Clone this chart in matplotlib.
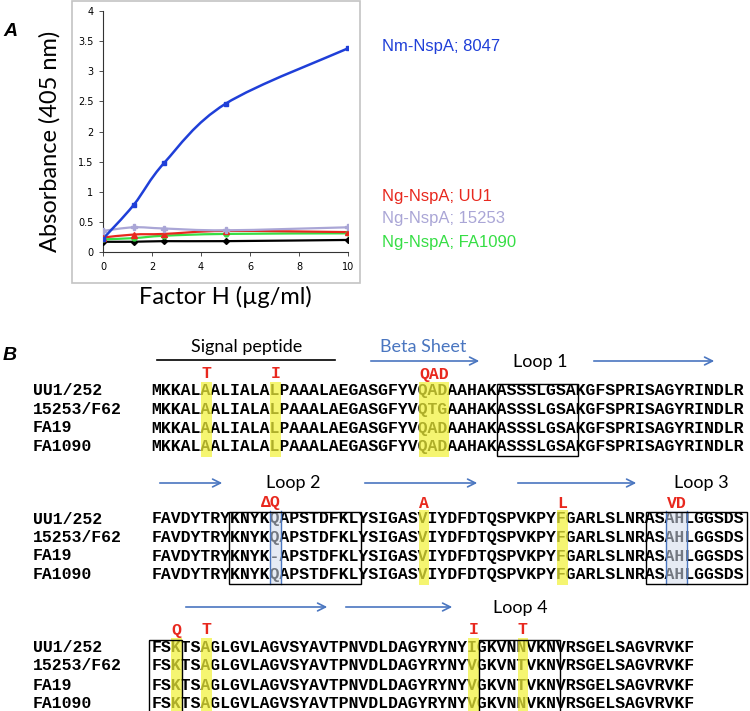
#Import relevant packages
import numpy as np
import matplotlib
matplotlib.use('Agg')
import matplotlib.pyplot as plt
from matplotlib.path import Path
from matplotlib.patches import PathPatch, Rectangle

#Panel A data: absorbance vs factor H concentration
fh = [0, 1.25, 2.5, 5, 10]
nm_8047 = [0.22, 0.78, 1.48, 2.46, 3.38]
ng_uu1 = [0.24, 0.29, 0.30, 0.35, 0.33]
ng_15253 = [0.35, 0.41, 0.39, 0.36, 0.41]
ng_fa1090 = [0.21, 0.23, 0.27, 0.30, 0.31]
control = [0.17, 0.17, 0.18, 0.18, 0.20]
yticks = [0, 0.5, 1, 1.5, 2, 2.5, 3, 3.5, 4]
ytick_labels = ['0', '0.5', '1', '1.5', '2', '2.5', '3', '3.5', '4']
xticks = [0, 2, 4, 6, 8, 10]

#Panel B data: NspA alignment
names = ['UU1/252', '15253/F62', 'FA19', 'FA1090']
block1 = ['MKKALAALIALALPAAALAEGASGFYVQADAAHAKASSSLGSAKGFSPRISAGYRINDLR',
          'MKKALAALIALALPAAALAEGASGFYVQTGAAHAKASSSLGSAKGFSPRISAGYRINDLR',
          'MKKALAALIALALPAAALAEGASGFYVQADAAHAKASSSLGSAKGFSPRISAGYRINDLR',
          'MKKALAALIALALPAAALAEGASGFYVQADAAHAKASSSLGSAKGFSPRISAGYRINDLR']
block2 = ['FAVDYTRYKNYKQAPSTDFKLYSIGASVIYDFDTQSPVKPYFGARLSLNRASAHLGGSDS',
          'FAVDYTRYKNYKQAPSTDFKLYSIGASVIYDFDTQSPVKPYFGARLSLNRASAHLGGSDS',
          'FAVDYTRYKNYK-APSTDFKLYSIGASVIYDFDTQSPVKPYFGARLSLNRASAHLGGSDS',
          'FAVDYTRYKNYKQAPSTDFKLYSIGASVIYDFDTQSPVKPYFGARLSLNRASAHLGGSDS']
block3 = ['FSKTSAGLGVLAGVSYAVTPNVDLDAGYRYNYIGKVNNVKNVRSGELSAGVRVKF',
          'FSKTSAGLGVLAGVSYAVTPNVDLDAGYRYNYVGKVNTVKNVRSGELSAGVRVKF',
          'FSKTSAGLGVLAGVSYAVTPNVDLDAGYRYNYVGKVNTVKNVRSGELSAGVRVKF',
          'FSKTSAGLGVLAGVSYAVTPNVDLDAGYRYNYVGKVNNVKNVRSGELSAGVRVKF']
# (position, number of residues) of highlighted columns
yellow1 = [(5, 1), (12, 1), (27, 3)]
yellow2 = [(27, 1), (41, 1)]
yellow3 = [(2, 1), (5, 1), (32, 1), (37, 1)]
blue2 = [(12, 1), (52, 2)]
# red substitution labels: (position, text)
subs1 = [(5, 'T'), (12, 'I'), (27, 'QAD')]
subs2 = [(12, 'ΔQ'), (27, 'A'), (41, 'L'), (52, 'VD')]
subs3 = [(2, 'Q'), (5, 'T'), (32, 'I'), (37, 'T')]
# boxed loops: (start, end) in residue positions
boxes1 = [(34.85, 43.05)]
boxes2 = [(7.8, 21.15), (49.97, 60.1)]
boxes3 = [(-0.25, 3.08), (33.05, 41.2)]

blue = '#1f3fd8'
red = '#e8281e'
lav = '#aaa6d6'
green = '#36de45'
arrow_c = '#4a76c0'

fig = plt.figure(figsize=(7.5, 7.11), dpi=100)

#Panel A line chart
ax = fig.add_axes([103/750, 1-252/711, 245/750, 241/711])

def smooth(x, y, color, lw):
    # Catmull-Rom style bezier through the points (like the spreadsheet smoothing)
    p = np.column_stack([x, y]).astype(float)
    ext = np.vstack([p[0], p, p[-1]])
    verts = [p[0]]
    codes = [Path.MOVETO]
    for i in range(len(p)-1):
        p0, p1, p2, p3 = ext[i], ext[i+1], ext[i+2], ext[i+3]
        verts += [p1 + (p2-p0)/6, p2 - (p3-p1)/6, p2]
        codes += [Path.CURVE4]*3
    ax.add_patch(PathPatch(Path(verts, codes), fill=False, edgecolor=color, lw=lw,
                           transform=ax.transData, zorder=2))

smooth(fh, control, 'black', 1.6)
smooth(fh, ng_fa1090, green, 1.6)
smooth(fh, ng_uu1, red, 1.6)
smooth(fh, ng_15253, lav, 1.6)
smooth(fh, nm_8047, blue, 1.8)
ax.plot(fh, control, 'D', color='black', ms=3, zorder=3)
ax.plot(fh, ng_fa1090, 'o', color=green, ms=3.5, zorder=3)
ax.plot(fh, ng_uu1, '^', color=red, ms=4, zorder=3)
ax.plot(fh, ng_15253, 'P', color=lav, ms=4, zorder=3)
ax.plot(fh, nm_8047, 's', color=blue, ms=3.5, zorder=4)

ax.set_xlim(0, 10)
ax.set_ylim(0, 4)
ax.set_yticks(yticks)
ax.set_yticklabels(ytick_labels)
ax.set_xticks(xticks)
ax.spines['top'].set_visible(False)
ax.spines['right'].set_visible(False)
for s in ['left', 'bottom']:
    ax.spines[s].set_color('#333333')
    ax.spines[s].set_linewidth(0.8)
ax.tick_params(labelsize=7, length=3, width=0.6, color='#333333', pad=4)
ax.patch.set_alpha(0)

#Overlay axes in pixel units for the annotations and panel B
ov = fig.add_axes([0, 0, 1, 1])
ov.set_xlim(0, 750)
ov.set_ylim(711, 0)
ov.axis('off')
ov.patch.set_alpha(0)

ov.add_patch(Rectangle((72, 1), 288, 282, fill=False, edgecolor='#c4c4c4', lw=1.2))
ov.text(50, 141, 'Absorbance (405 nm)', rotation=90, ha='center', va='center',
        fontsize=17, family='Lato')
ov.text(225, 297, 'Factor H (µg/ml)', ha='center', va='center', fontsize=17, family='Lato')
ov.text(3, 32, 'A', fontsize=14, fontweight='bold', style='italic', va='center',
        family='Liberation Sans')
ov.text(3, 355, 'B', fontsize=14, fontweight='bold', style='italic', va='center',
        family='Liberation Sans')

legend = [('Nm-NspA; 8047', blue, 46), ('Ng-NspA; UU1', red, 197),
          ('Ng-NspA; 15253', lav, 219), ('Ng-NspA; FA1090', green, 242)]
for txt, col, y in legend:
    ov.text(382, y, txt, color=col, fontsize=12, va='center', family='Liberation Sans')

#Panel B alignment
x0 = 151.7
cw = 9.9
mono = dict(family='Liberation Mono', fontweight='bold', fontsize=cw/0.6*0.72)

def cx(i):
    return x0 + i*cw

def draw_block(rows, ys, yellow, blues, subs, boxes, sub_y):
    for name, seq, y in zip(names, rows, ys):
        ov.text(33, y+4.5, name, va='baseline', ha='left', **mono)
        ov.text(x0, y+4.5, seq, va='baseline', ha='left', **mono)
    top = ys[0] - 9
    bot = ys[-1] + 10
    for pos, n in yellow:
        ov.add_patch(Rectangle((cx(pos)-0.5, top), n*cw+1, bot-top, facecolor='#f2f23a',
                               alpha=0.72, edgecolor='none', zorder=5))
    for pos, n in blues:
        ov.add_patch(Rectangle((cx(pos)-0.5, top+1), n*cw+1, bot-top-2, facecolor='#d2dcec',
                               alpha=0.55, edgecolor='none', zorder=5))
        ov.plot([cx(pos)-0.5]*2, [top+1, bot-1], color=arrow_c, lw=1.0, zorder=6)
        ov.plot([cx(pos+n)+0.5]*2, [top+1, bot-1], color=arrow_c, lw=1.0, zorder=6)
    for pos, txt in subs:
        if txt.startswith('Δ'):
            ov.text(cx(pos+1), sub_y+4.5, txt, color=red, ha='right', va='baseline', **mono)
        else:
            ov.text(cx(pos), sub_y+4.5, txt, color=red, ha='left', va='baseline', **mono)
    for a, b in boxes:
        ov.add_patch(Rectangle((cx(a), top+2), (b-a)*cw, bot-top-3, fill=False,
                               edgecolor='black', lw=1.0, zorder=7))

draw_block(block1, [390.5, 409.5, 428, 446.5], yellow1, [], subs1, boxes1, 374)
draw_block(block2, [519, 537.5, 556, 574.5], yellow2, blue2, subs2, boxes2, 503)
draw_block(block3, [647, 666, 685, 703.5], yellow3, [], subs3, boxes3, 630)

def arrow(xa, xb, y):
    ov.annotate('', xy=(xb, y), xytext=(xa, y),
                arrowprops=dict(arrowstyle='->', color=arrow_c, lw=1.2, mutation_scale=14))

ov.plot([157, 335], [360, 360], color='black', lw=1.2)
ov.text(247, 347, 'Signal peptide', ha='center', va='center', fontsize=13, family='Lato')
ov.text(423, 347, 'Beta Sheet', ha='center', va='center', fontsize=13, family='Lato',
        color=arrow_c)
arrow(368, 482, 361)
ov.text(540, 362, 'Loop 1', ha='center', va='center', fontsize=13, family='Lato')
arrow(591, 717, 361)

arrow(157, 225, 483)
ov.text(293, 483, 'Loop 2', ha='center', va='center', fontsize=13, family='Lato')
arrow(362, 480, 483)
arrow(515, 639, 483)
ov.text(701, 483, 'Loop 3', ha='center', va='center', fontsize=13, family='Lato')

arrow(183, 330, 607)
arrow(343, 455, 607)
ov.text(520, 608, 'Loop 4', ha='center', va='center', fontsize=13, family='Lato')

plt.savefig('out.png', dpi=100)
